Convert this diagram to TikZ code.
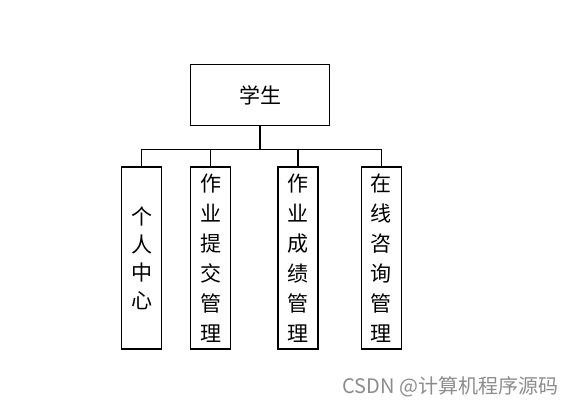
\documentclass[tikz,border=0pt]{standalone}
\usepackage{fontspec}
\setmainfont{Noto Sans CJK SC}
\usepackage{xcolor}
\usetikzlibrary{positioning}

\begin{document}
\begin{tikzpicture}[
    x=1pt, y=-1pt,
    topbox/.style={rectangle, draw, line width=1.2pt, minimum width=139pt, minimum height=61pt, font=\fontsize{21}{25}\selectfont},
    module/.style={rectangle, draw, line width=1.2pt, minimum width=40pt, minimum height=182pt, inner sep=0pt, align=center, font=\fontsize{21}{30}\selectfont},
    link/.style={line width=1.2pt}
]
\useasboundingbox (0,0) rectangle (569,408);

\node[topbox] (student) at (260,95) {学生};

\node[module, font=\fontsize{21}{28}\selectfont] (personal) at (141.5,258) {个\\人\\中\\心};
\node[module, right=28pt of personal] (submit) {作\\业\\提\\交\\管\\理};
\node[module, right=46pt of submit] (grade) {作\\业\\成\\绩\\管\\理};
\node[module, right=42pt of grade] (consult) {在\\线\\咨\\询\\管\\理};

\foreach \m in {personal,submit,grade,consult}
    \draw[link] (student.south) -- ++(0,23) -| (\m.north);

\node[anchor=east, text=black!45, font=\fontsize{20}{22}\selectfont] (mark) at (562,387) {CSDN @计算机程序源码};

\end{tikzpicture}
\end{document}
